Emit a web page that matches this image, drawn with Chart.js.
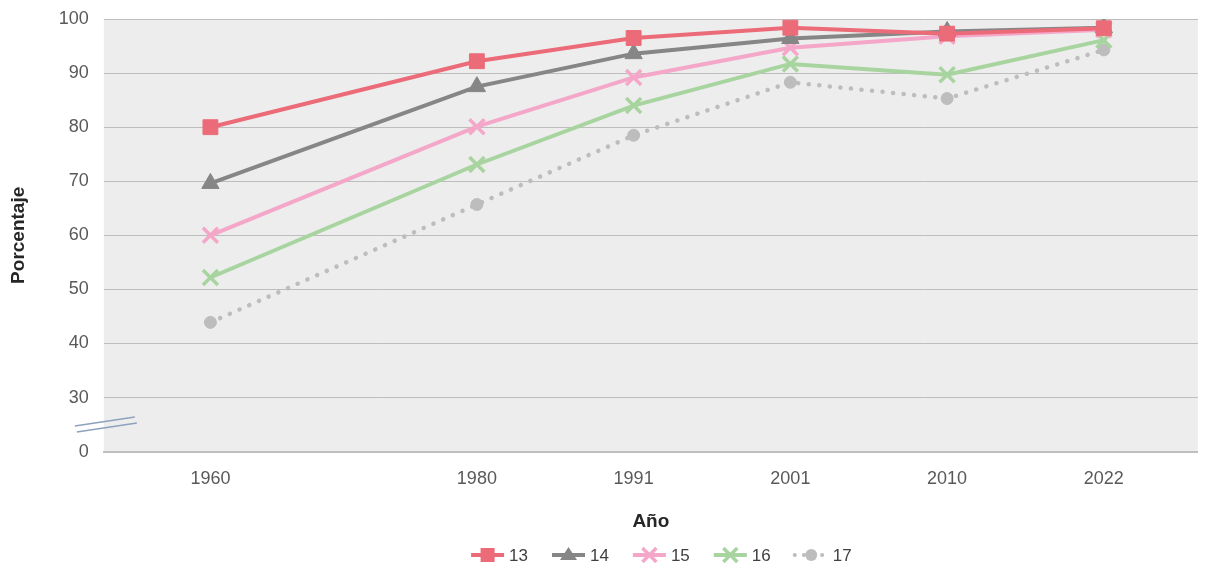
<!DOCTYPE html>
<html>
<head>
<meta charset="utf-8">
<script src="https://cdn.jsdelivr.net/npm/chart.js@4.4.1/dist/chart.umd.min.js"></script>
<style>
  html, body { margin: 0; padding: 0; background: #fff; }
  #wrap { width: 1212px; height: 563px; }
</style>
</head>
<body>
<div id="wrap"><canvas id="chart"></canvas></div>
<script>
// years and where each one sits along the x axis (1960 is set apart)
const years = ["1960", "1980", "1991", "2001", "2010", "2022"];
const yearSlots = [0, 1.7, 2.7, 3.7, 4.7, 5.7];

const yTicks = [20, 30, 40, 50, 60, 70, 80, 90, 100];
const yTickLabels = ["0", "30", "40", "50", "60", "70", "80", "90", "100"];

const seriesNames = ["13", "14", "15", "16", "17"];
const age13 = [80.0, 92.2, 96.5, 98.4, 97.3, 98.3];
const age14 = [69.6, 87.5, 93.6, 96.4, 97.7, 98.4];
const age15 = [60.0, 80.1, 89.2, 94.7, 96.8, 98.0];
const age16 = [52.2, 73.1, 84.0, 91.7, 89.7, 96.1];
const age17 = [43.9, 65.7, 78.5, 88.3, 85.3, 94.3];

const colors = ["#ec6b78", "#868686", "#f4a7c8", "#a8d4a0", "#bdbdbd"];
const markers = ["rect", "triangle", "crossRot", "crossRot", "circle"];
const markerSize = [10.5, 10, 10.6, 10.6, 6];

const FONT = "Liberation Sans";

function toPoints(values) {
  return values.map((v, i) => ({ x: yearSlots[i], y: v }));
}

function makeDataset(name, values, i) {
  const dotted = i === 4;
  return {
    label: name,
    data: toPoints(values),
    borderColor: colors[i],
    backgroundColor: colors[i],
    borderWidth: dotted ? 4.5 : 4,
    borderDash: dotted ? [0.1, 10.5] : [],
    borderCapStyle: dotted ? "round" : "butt",
    pointStyle: markers[i],
    pointRadius: markerSize[i],
    pointHoverRadius: markerSize[i],
    pointBorderWidth: markers[i] === "crossRot" ? 3.5 : 1,
    pointBorderColor: colors[i],
    pointBackgroundColor: colors[i],
    tension: 0,
  };
}

const plotBackground = {
  id: "plotBackground",
  beforeDraw(chart) {
    const { ctx, chartArea: a } = chart;
    ctx.save();
    ctx.fillStyle = "#ededed";
    ctx.fillRect(a.left, a.top, a.right - a.left, a.bottom - a.top);
    ctx.restore();
  },
};

// the two slanted strokes showing the cut between 0 and 30
const axisBreak = {
  id: "axisBreak",
  afterDraw(chart) {
    const { ctx, chartArea: a } = chart;
    const y = chart.scales.y.getPixelForValue(25);
    const x = a.left;
    ctx.save();
    ctx.strokeStyle = "#8ea1bd";
    ctx.lineWidth = 1.5;
    ctx.beginPath();
    ctx.moveTo(x - 29, y + 1.5);
    ctx.lineTo(x + 31, y - 7.5);
    ctx.moveTo(x - 27, y + 7.5);
    ctx.lineTo(x + 33, y - 1.5);
    ctx.stroke();
    ctx.restore();
  },
};

// legend with a short line and the marker on it, drawn under the axis title
const lineLegend = {
  id: "lineLegend",
  afterDraw(chart) {
    const { ctx, chartArea: a } = chart;
    const iconW = 35, gapText = 4, gapItem = 23;
    const y = chart.height - 8;
    ctx.save();
    ctx.font = "17px " + FONT;
    const widths = chart.data.datasets.map(
      (ds) => iconW + gapText + ctx.measureText(ds.label).width
    );
    const total = widths.reduce((s, w) => s + w, 0) + gapItem * (widths.length - 1);
    let x = (a.left + a.right) / 2 + 10 - total / 2;
    chart.data.datasets.forEach((ds, i) => {
      ctx.strokeStyle = colors[i];
      ctx.fillStyle = colors[i];
      ctx.lineWidth = 4;
      if (i === 4) {
        ctx.lineCap = "round";
        ctx.setLineDash([0.1, 9]);
      }
      ctx.beginPath();
      ctx.moveTo(x + 1, y);
      ctx.lineTo(x + iconW - 1, y);
      ctx.stroke();
      ctx.setLineDash([]);
      ctx.lineCap = "butt";
      const cx = x + iconW / 2;
      if (markers[i] === "rect") {
        ctx.fillRect(cx - 7, y - 7, 14, 14);
      } else if (markers[i] === "triangle") {
        ctx.beginPath();
        ctx.moveTo(cx, y - 8);
        ctx.lineTo(cx + 8.5, y + 5);
        ctx.lineTo(cx - 8.5, y + 5);
        ctx.closePath();
        ctx.fill();
      } else if (markers[i] === "crossRot") {
        ctx.lineWidth = 3.5;
        ctx.beginPath();
        ctx.moveTo(cx - 7, y - 7); ctx.lineTo(cx + 7, y + 7);
        ctx.moveTo(cx + 7, y - 7); ctx.lineTo(cx - 7, y + 7);
        ctx.stroke();
      } else {
        ctx.beginPath();
        ctx.arc(cx, y, 6, 0, Math.PI * 2);
        ctx.fill();
      }
      ctx.fillStyle = "#404040";
      ctx.textBaseline = "middle";
      ctx.textAlign = "left";
      ctx.fillText(ds.label, x + iconW + gapText, y + 1);
      x += widths[i] + gapItem;
    });
    ctx.restore();
  },
};

const datasets = [age13, age14, age15, age16, age17].map((vals, i) =>
  makeDataset(seriesNames[i], vals, i)
);

new Chart(document.getElementById("chart"), {
  type: "line",
  data: { datasets },
  plugins: [plotBackground, axisBreak, lineLegend],
  options: {
    responsive: true,
    maintainAspectRatio: false,
    animation: false,
    layout: { padding: { left: 4, right: 12, top: 0, bottom: 30 } },
    scales: {
      x: {
        type: "linear",
        min: -0.68,
        max: 6.3,
        afterBuildTicks(scale) {
          scale.ticks = yearSlots.map((v) => ({ value: v }));
        },
        ticks: {
          autoSkip: false,
          maxRotation: 0,
          padding: 17,
          color: "#595959",
          font: { family: FONT, size: 18 },
          callback(value) {
            const idx = yearSlots.indexOf(value);
            return idx >= 0 ? years[idx] : "";
          },
        },
        grid: { display: false, drawTicks: false },
        border: { color: "#bfbfbf", width: 2 },
        title: {
          display: true,
          text: "Año",
          color: "#262626",
          font: { family: FONT, size: 19, weight: "bold" },
          padding: { top: 3, bottom: 0 },
        },
      },
      y: {
        min: 20,
        max: 100,
        afterBuildTicks(scale) {
          scale.ticks = yTicks.map((v) => ({ value: v }));
        },
        ticks: {
          padding: 15,
          color: "#595959",
          font: { family: FONT, size: 18, lineHeight: 0.45 },
          callback(value) {
            const idx = yTicks.indexOf(value);
            return idx >= 0 ? yTickLabels[idx] : "";
          },
        },
        grid: {
          drawTicks: false,
          color: (c) => (c.tick && c.tick.value === 20 ? "rgba(0,0,0,0)" : "#bdbdbd"),
          lineWidth: 1,
        },
        border: { display: false },
        title: {
          display: true,
          text: "Porcentaje",
          color: "#262626",
          font: { family: FONT, size: 19, weight: "bold" },
          padding: { top: 3, bottom: 14 },
        },
      },
    },
    plugins: {
      tooltip: { enabled: false },
      legend: { display: false },
    },
  },
});
</script>
</body>
</html>
